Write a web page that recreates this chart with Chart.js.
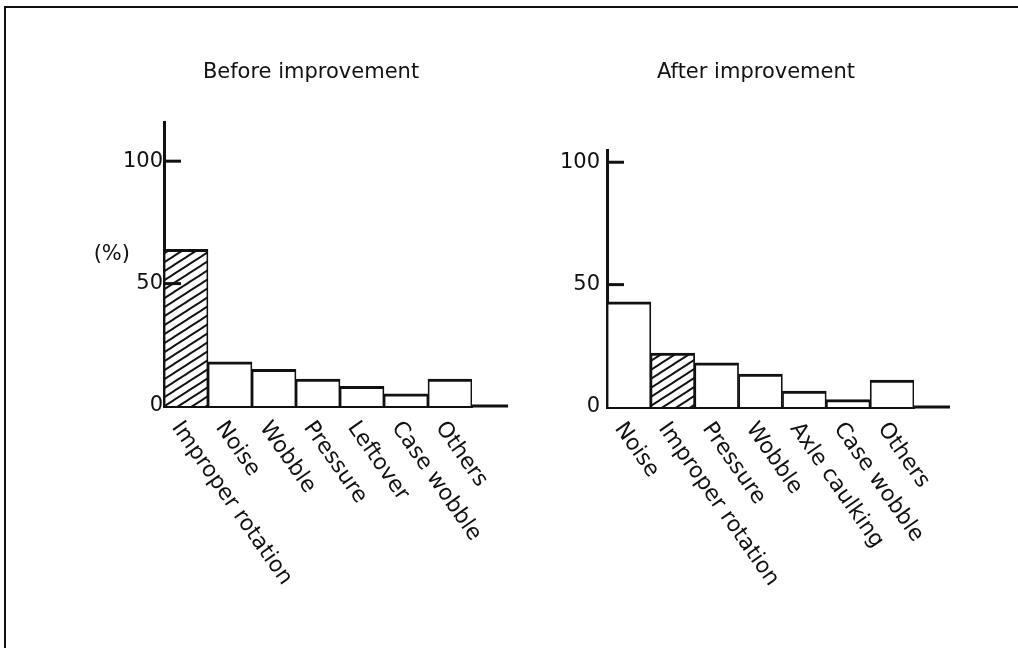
<!DOCTYPE html>
<html>
<head>
<meta charset="utf-8">
<script src="https://cdn.jsdelivr.net/npm/chart.js@4.4.1/dist/chart.umd.min.js"></script>
<style>
  html, body { margin: 0; padding: 0; background: #fff; }
  body { width: 1018px; height: 648px; position: relative; overflow: hidden; }
  #frame { position: absolute; left: 4px; top: 6px; width: 1020px; height: 650px;
           border-top: 2px solid #111; border-left: 2px solid #111; }
  canvas { position: absolute; }
  #before { left: 90px; top: 40px; }
  #after { left: 548px; top: 40px; }
</style>
</head>
<body>
<div id="frame"></div>
<canvas id="before" width="440" height="566"></canvas>
<canvas id="after" width="416" height="587"></canvas>
<script>
// values (percent)
const beforeLabels = ['Improper rotation', 'Noise', 'Wobble', 'Pressure', 'Leftover', 'Case wobble', 'Others'];
const beforeValues = [64, 18, 15, 11, 8, 5, 11];
const afterLabels = ['Noise', 'Improper rotation', 'Pressure', 'Wobble', 'Axle caulking', 'Case wobble', 'Others'];
const afterValues = [43, 22, 18, 13.5, 6.5, 3, 11];
const yTicks = [0, 50, 100];
const hatched = 'Improper rotation';

const ink = '#111';
const font = 'DejaVu Sans';

function hatch(canvas) {
  const tile = document.createElement('canvas');
  tile.width = 14;
  tile.height = 9;
  const t = tile.getContext('2d');
  t.fillStyle = '#fff';
  t.fillRect(0, 0, 14, 9);
  t.strokeStyle = ink;
  t.lineWidth = 1.9;
  for (let k = -1; k <= 1; k++) {
    t.beginPath();
    t.moveTo(-1, 9 + 9 / 14 + 9 * k);
    t.lineTo(15, -9 / 14 + 9 * k);
    t.stroke();
  }
  return canvas.getContext('2d').createPattern(tile, 'repeat');
}

// tick labels, inner ticks, axis tail, slanted category names, unit
const decor = {
  id: 'decor',
  afterDraw(chart, args, opts) {
    const { ctx, chartArea: area } = chart;
    const xs = chart.scales.x, ys = chart.scales.y;
    const labels = chart.data.labels;
    const step = xs.getPixelForValue(1) - xs.getPixelForValue(0);
    ctx.save();
    ctx.strokeStyle = ink;
    ctx.lineWidth = 3;
    yTicks.filter(v => v > 0).forEach(v => {
      const yy = ys.getPixelForValue(v);
      ctx.beginPath();
      ctx.moveTo(area.left, yy);
      ctx.lineTo(area.left + 17, yy);
      ctx.stroke();
    });
    ctx.beginPath();
    ctx.moveTo(area.right, area.bottom);
    ctx.lineTo(area.right + step * 0.82, area.bottom);
    ctx.stroke();

    ctx.fillStyle = ink;
    ctx.font = '21px "' + font + '"';
    ctx.textAlign = 'right';
    ctx.textBaseline = 'middle';
    yTicks.forEach(v => {
      ctx.fillText(String(v), area.left - opts.tickPad, ys.getPixelForValue(v));
    });
    if (opts.unit) {
      ctx.fillText(opts.unit, area.left - 34, ys.getPixelForValue(50) - 29);
    }

    ctx.font = '22px "' + font + '"';
    ctx.textAlign = 'left';
    labels.forEach((lab, i) => {
      ctx.save();
      ctx.translate(xs.getPixelForValue(i) - 10, area.bottom + 18);
      ctx.rotate(55 * Math.PI / 180);
      ctx.fillText(lab, 0, 0);
      ctx.restore();
    });
    ctx.restore();
  }
};

function makeChart(id, title, labels, values, cfg) {
  const canvas = document.getElementById(id);
  const pattern = hatch(canvas);
  return new Chart(canvas, {
    type: 'bar',
    data: {
      labels: labels,
      datasets: [{
        data: values,
        backgroundColor: labels.map(l => l === hatched ? pattern : '#fff'),
        borderColor: ink,
        borderWidth: { top: 3, left: 1.75, right: 1.75, bottom: 0 },
        barPercentage: 1,
        categoryPercentage: 1
      }]
    },
    options: {
      responsive: false,
      animation: false,
      events: [],
      layout: { padding: { left: cfg.padLeft, right: cfg.padRight, top: 0, bottom: 0 } },
      plugins: {
        legend: { display: false },
        tooltip: { enabled: false },
        title: {
          display: true,
          text: title,
          color: ink,
          font: { family: font, size: 21, weight: 'normal', lineHeight: 1.2 },
          padding: { top: 20, bottom: cfg.titleGap }
        },
        decor: { unit: cfg.unit, tickPad: cfg.tickPad }
      },
      scales: {
        x: {
          z: 1,
          grid: { display: false, drawTicks: false },
          border: { display: true, color: ink, width: 3 },
          ticks: { display: false },
          afterFit: s => { s.height = cfg.xHeight; }
        },
        y: {
          z: 1,
          min: 0,
          max: cfg.yMax,
          grid: { display: false, drawTicks: false },
          border: { display: true, color: ink, width: 3 },
          ticks: { display: false },
          afterBuildTicks: s => { s.ticks = yTicks.map(v => ({ value: v })); },
          afterFit: s => { s.width = cfg.yWidth; }
        }
      }
    },
    plugins: [decor]
  });
}

makeChart('before', 'Before improvement', beforeLabels, beforeValues, {
  padLeft: 60, padRight: 58, yWidth: 14, tickPad: 1,
  titleGap: 36.8, xHeight: 200, yMax: 116, unit: '(%)'
});
makeChart('after', 'After improvement', afterLabels, afterValues, {
  padLeft: 50, padRight: 50, yWidth: 9, tickPad: 7,
  titleGap: 64.8, xHeight: 220, yMax: 105, unit: null
});
</script>
</body>
</html>
